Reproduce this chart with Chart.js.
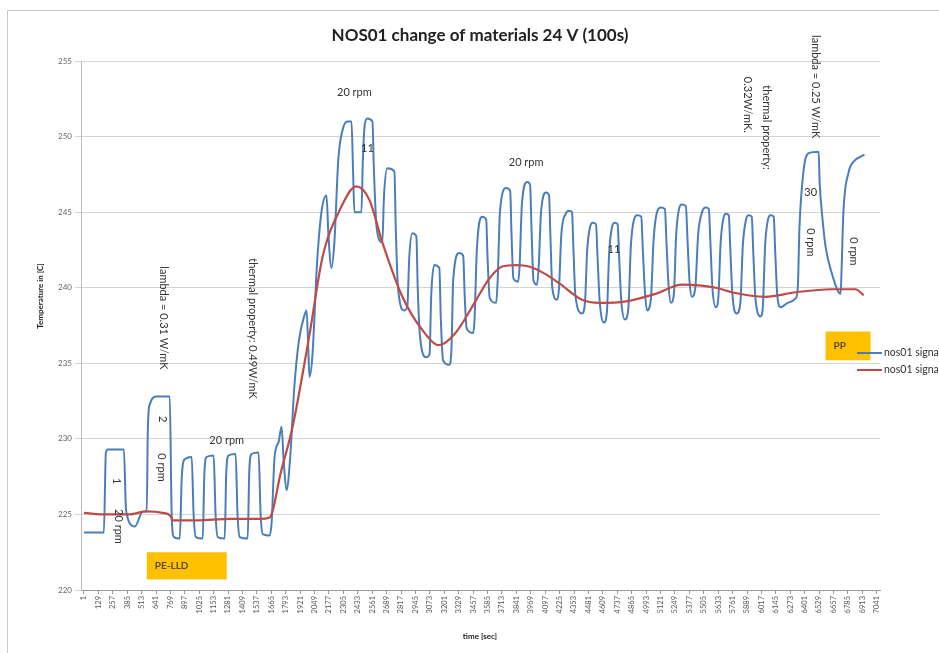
<!DOCTYPE html>
<html>
<head>
<meta charset="utf-8">
<script src="https://cdn.jsdelivr.net/npm/chart.js@4.4.1/dist/chart.umd.min.js"></script>
<style>
  html, body { margin: 0; padding: 0; background: #fff; }
  #wrap { width: 939px; height: 653px; position: relative; }
</style>
</head>
<body>
<div id="wrap"><canvas id="chart" width="939" height="653"></canvas></div>
<script>
// time [sec] tick labels on the x axis
const xTickValues = [1,129,257,385,513,641,769,897,1025,1153,1281,1409,1537,1665,1793,1921,2049,2177,2305,2433,2561,2689,2817,2945,3073,3201,3329,3457,3585,3713,3841,3969,4097,4225,4353,4481,4609,4737,4865,4993,5121,5249,5377,5505,5633,5761,5889,6017,6145,6273,6401,6529,6657,6785,6913,7041];
const yTickValues = [220,225,230,235,240,245,250,255];

// nos01 signal (blue) - [time, temperature]
const signalBlue = [
  [1,223.8],[178,223.8],[196,229.1],[215,229.3],[356,229.3],
  [373,225.5],[382,225.0],[453,224.2],[524,225.2],[559,225.2],
  [568,230.5],[586,232.3],[648,232.8],[763,232.8],
  [780,225.0],[800,223.5],[852,223.4],
  [870,227.5],[890,228.6],[958,228.8],[975,225.0],[995,223.5],[1056,223.4],
  [1070,227.6],[1090,228.8],[1153,228.9],[1170,225.0],[1190,223.5],[1251,223.4],
  [1265,227.8],[1285,228.9],[1348,229.0],[1365,225.0],[1385,223.5],[1455,223.4],
  [1470,228.0],[1490,229.0],[1552,229.1],[1570,225.0],[1590,223.7],[1650,223.6],
  [1668,224.5],[1694,228.8],[1730,229.8],[1756,230.8],[1775,228.5],[1800,226.6],
  [1830,228.5],[1870,233.5],[1910,236.5],[1960,238.2],[1978,238.5],[1993,236.0],[2004,234.1],
  [2030,235.5],[2070,241.5],[2110,245.0],[2155,246.1],[2172,243.5],[2199,241.3],
  [2225,243.0],[2260,248.5],[2300,250.5],[2341,251.0],[2377,251.0],[2390,248.0],[2403,245.0],[2465,245.0],
  [2478,248.5],[2495,250.8],[2518,251.2],[2563,251.0],[2575,248.0],[2600,244.0],[2651,243.0],
  [2665,246.0],[2696,247.9],[2758,247.7],[2770,244.0],[2790,240.0],[2846,238.5],[2873,238.8],
  [2890,242.0],[2917,243.6],[2953,243.4],[2965,240.0],[2985,236.8],[3041,235.4],[3070,235.6],
  [3085,239.5],[3112,241.5],[3157,241.3],[3170,238.0],[3190,235.2],[3245,234.9],
  [3265,236.0],[3280,240.5],[3334,242.3],[3369,242.1],[3382,239.5],[3400,237.3],[3458,237.0],
  [3470,238.0],[3490,242.5],[3538,244.7],[3573,244.5],[3585,242.0],[3605,239.3],[3662,239.0],
  [3675,240.5],[3695,245.0],[3751,246.6],[3786,246.4],[3798,243.5],[3815,240.6],[3857,240.4],
  [3870,241.5],[3890,245.5],[3937,247.0],[3963,246.8],[3975,244.0],[3993,240.5],[4025,240.2],
  [4040,241.5],[4060,245.0],[4105,246.3],[4131,246.1],[4143,243.5],[4160,240.0],[4202,239.2],
  [4220,240.0],[4240,243.5],[4280,244.9],[4309,245.1],[4335,245.0],[4348,242.5],[4365,239.5],[4424,238.3],
  [4450,239.0],[4470,242.5],[4495,244.0],[4520,244.3],[4548,244.2],[4562,242.0],[4580,239.2],[4619,237.7],
  [4645,238.4],[4665,242.3],[4690,244.0],[4715,244.3],[4740,244.2],[4754,242.0],[4772,239.2],[4805,237.9],
  [4835,238.6],[4858,242.8],[4885,244.5],[4915,244.8],[4950,244.7],[4964,242.5],[4982,239.8],[5001,238.5],
  [5035,239.2],[5060,243.2],[5090,245.0],[5125,245.3],[5160,245.2],[5174,243.0],[5192,240.2],[5213,239.0],
  [5240,239.6],[5260,243.5],[5285,245.2],[5311,245.5],[5346,245.4],[5360,243.3],[5378,240.5],[5400,239.4],
  [5430,240.0],[5455,243.5],[5490,245.0],[5523,245.3],[5550,245.2],[5564,243.0],[5582,240.0],[5612,238.7],
  [5635,239.4],[5655,243.0],[5680,244.6],[5701,244.9],[5727,244.8],[5741,242.5],[5760,239.5],[5798,238.3],
  [5830,239.0],[5852,242.8],[5880,244.5],[5904,244.8],[5931,244.7],[5945,242.3],[5964,239.3],[6011,238.1],
  [6030,238.8],[6050,242.8],[6075,244.5],[6099,244.8],[6126,244.7],[6140,242.3],[6158,239.5],[6188,238.7],
  [6250,239.0],[6321,239.3],[6340,240.0],[6355,244.0],[6392,247.8],[6436,248.9],[6525,249.0],
  [6534,247.0],[6560,244.5],[6587,242.7],[6640,241.0],[6702,239.7],[6720,239.6],
  [6728,241.0],[6745,245.0],[6790,247.6],[6843,248.4],[6906,248.7],[6932,248.8]
];

// nos01 signal (red) - [time, temperature]
const signalRed = [
  [1,225.1],[200,225.0],[400,225.0],[560,225.2],[700,225.1],[770,224.9],[790,224.6],
  [1000,224.6],[1300,224.7],[1550,224.7],[1650,224.8],[1750,227.8],[1854,230.8],
  [2004,236.9],[2119,242.0],[2270,245.1],[2421,246.7],[2536,245.8],[2651,243.0],
  [2829,239.4],[3006,237.2],[3157,236.2],[3300,237.0],[3485,239.2],[3600,240.6],
  [3715,241.4],[3839,241.5],[3954,241.4],[4100,240.9],[4220,240.3],[4424,239.2],
  [4575,239.0],[4814,239.1],[5080,239.6],[5311,240.2],[5612,240.0],[5754,239.7],
  [6055,239.4],[6321,239.7],[6640,239.9],[6853,239.9],[6924,239.5]
];

const seriesNames = ['nos01 signal', 'nos01 signal'];

// text notes placed in data coordinates
const notes = [
  {t: 293,  v: 227.2, text: '1', rot: true},
  {t: 311,  v: 224.2, text: '20 rpm', rot: true},
  {t: 701,  v: 231.3, text: '2', rot: true},
  {t: 692,  v: 228.1, text: '0 rpm', rot: true},
  {t: 710,  v: 238.0, text: 'lambda = 0.31 W/mK', rot: true},
  {t: 1499, v: 237.3, text: 'thermal property: 0.49W/mK', rot: true},
  {t: 1269, v: 229.9, text: '20 rpm', rot: false},
  {t: 2403, v: 252.9, text: '20 rpm', rot: false},
  {t: 2518, v: 249.2, text: '11', rot: false},
  {t: 3928, v: 248.3, text: '20 rpm', rot: false},
  {t: 4708, v: 242.5, text: '11', rot: false},
  {t: 6064, v: 250.6, text: 'thermal property:', rot: true},
  {t: 5895, v: 252.1, text: '0.32W/mK.', rot: true},
  {t: 6498, v: 253.3, text: 'lambda = 0.25 W/mK', rot: true},
  {t: 6454, v: 246.3, text: '30', rot: false},
  {t: 6454, v: 243.0, text: '0 rpm', rot: true},
  {t: 6835, v: 242.4, text: '0 rpm', rot: true}
];

const boxes = [
  {t0: 559,  t1: 1269, v0: 222.5, v1: 220.7, text: 'PE-LLD'},
  {t0: 6587, t1: 6986, v0: 237.1, v1: 235.2, text: 'PP'}
];

const blueColor = '#4a7ebb';
const redColor = '#be4b48';

const extras = {
  id: 'extras',
  afterDraw(chart) {
    const ctx = chart.ctx;
    const xs = chart.scales.x, ys = chart.scales.y;
    ctx.save();

    // chart frame
    ctx.strokeStyle = '#c8c8c8';
    ctx.lineWidth = 1;
    ctx.beginPath();
    ctx.moveTo(7.5, 653);
    ctx.lineTo(7.5, 10.5);
    ctx.lineTo(939, 10.5);
    ctx.stroke();

    // title
    ctx.fillStyle = '#222';
    ctx.font = 'bold 17px Lato';
    ctx.textAlign = 'center';
    ctx.textBaseline = 'middle';
    ctx.fillText('NOS01 change of materials 24 V (100s)', 480, 36);

    // axis titles
    ctx.font = 'bold 8px Lato';
    ctx.fillText('time [sec]', 480, 636);
    ctx.save();
    ctx.translate(40, 296);
    ctx.rotate(-Math.PI / 2);
    ctx.fillText('Temperature in [C]', 0, 0);
    ctx.restore();

    // yellow material boxes
    boxes.forEach(b => {
      const x0 = xs.getPixelForValue(b.t0), x1 = xs.getPixelForValue(b.t1);
      const y0 = ys.getPixelForValue(b.v0), y1 = ys.getPixelForValue(b.v1);
      ctx.fillStyle = '#ffc000';
      ctx.fillRect(x0, y0, x1 - x0, y1 - y0);
      ctx.fillStyle = '#5a4a20';
      ctx.font = 'bold 10px Lato';
      ctx.textAlign = 'left';
      ctx.fillText(b.text, x0 + 8, (y0 + y1) / 2);
    });

    // notes
    ctx.fillStyle = '#333';
    ctx.font = '11px Lato';
    ctx.textAlign = 'center';
    notes.forEach(n => {
      const x = xs.getPixelForValue(n.t), y = ys.getPixelForValue(n.v);
      if (n.rot) {
        ctx.save();
        ctx.translate(x, y);
        ctx.rotate(Math.PI / 2);
        ctx.fillText(n.text, 0, 0);
        ctx.restore();
      } else {
        ctx.fillText(n.text, x, y);
      }
    });

    // legend (cut off by the right edge)
    const colors = [blueColor, redColor];
    ctx.font = '10.5px Lato';
    ctx.textAlign = 'left';
    seriesNames.forEach((name, i) => {
      const y = 353 + i * 17;
      ctx.strokeStyle = colors[i];
      ctx.lineWidth = 2;
      ctx.beginPath();
      ctx.moveTo(857, y);
      ctx.lineTo(882, y);
      ctx.stroke();
      ctx.fillStyle = '#333';
      ctx.fillText(name, 884, y);
    });

    ctx.restore();
  }
};

new Chart('chart', {
  type: 'line',
  data: {
    datasets: [{
      label: seriesNames[0],
      data: signalBlue.map(p => ({x: p[0], y: p[1]})),
      borderColor: blueColor,
      borderWidth: 2,
      pointRadius: 0,
      cubicInterpolationMode: 'monotone',
      order: 2
    }, {
      label: seriesNames[1],
      data: signalRed.map(p => ({x: p[0], y: p[1]})),
      borderColor: redColor,
      borderWidth: 2.2,
      pointRadius: 0,
      cubicInterpolationMode: 'monotone',
      order: 1
    }]
  },
  options: {
    responsive: false,
    animation: false,
    layout: {padding: {top: 61, right: 59, left: 0, bottom: 0}},
    plugins: {legend: {display: false}, title: {display: false}, tooltip: {enabled: false}},
    scales: {
      x: {
        type: 'linear',
        min: -25,
        max: 7070,
        afterFit: s => { s.height = 63; },
        afterBuildTicks: s => { s.ticks = xTickValues.map(v => ({value: v})); },
        ticks: {
          autoSkip: false, minRotation: 90, maxRotation: 90,
          callback: v => String(v),
          font: {family: 'Lato', size: 7.5}, color: '#555', padding: 2
        },
        grid: {drawOnChartArea: false, tickLength: 4, color: '#999'},
        border: {color: '#999'}
      },
      y: {
        min: 220,
        max: 255,
        afterFit: s => { s.width = 81; },
        afterBuildTicks: s => { s.ticks = yTickValues.map(v => ({value: v})); },
        ticks: {font: {family: 'Lato', size: 8}, color: '#666', padding: 3},
        grid: {color: '#d4d4d4', tickLength: 6},
        border: {color: '#bbb'}
      }
    }
  },
  plugins: [extras]
});
</script>
</body>
</html>
